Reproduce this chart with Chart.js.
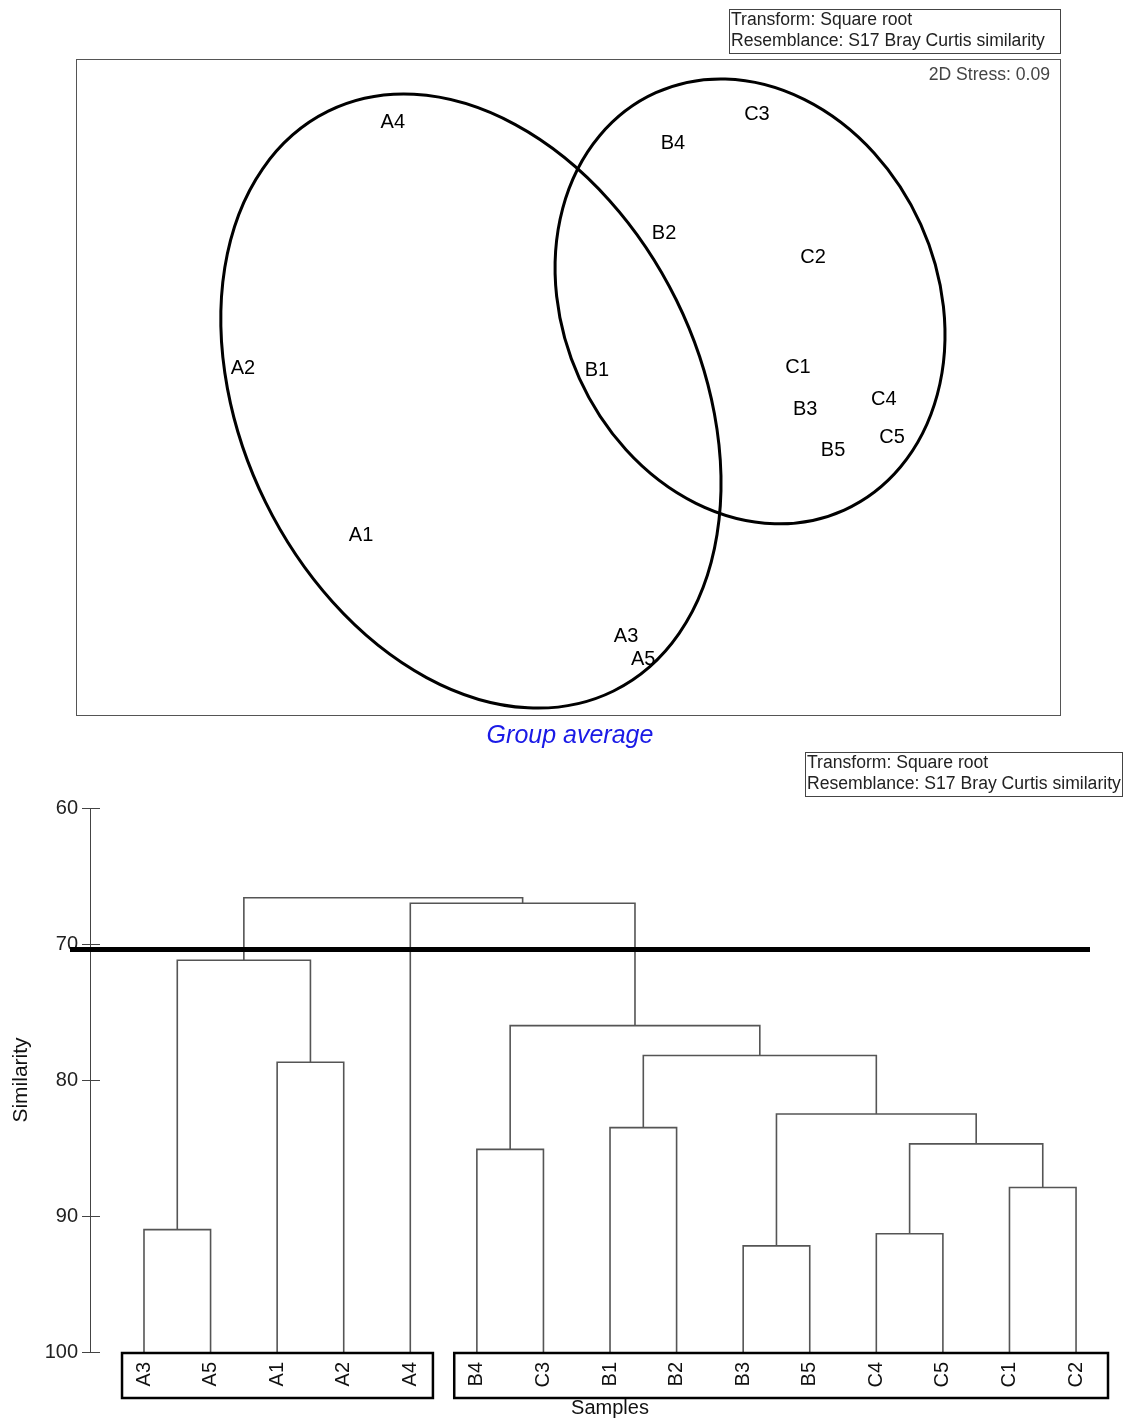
<!DOCTYPE html>
<html>
<head>
<meta charset="utf-8">
<script src="https://cdn.jsdelivr.net/npm/chart.js@4.4.1/dist/chart.umd.min.js"></script>
<style>
  body { margin: 0; background: #fff; }
  .box { position: absolute; left: 0; width: 1123px; }
</style>
</head>
<body>
<div class="box" style="top:0;height:750px"><canvas id="mds"></canvas></div>
<div class="box" style="top:750px;height:668px"><canvas id="dendro"></canvas></div>
<script>
const FONT = "'Liberation Sans', Arial, sans-serif";

// ---- nMDS ordination ----
const sampleLabels = ["A1","A2","A3","A4","A5","B1","B2","B3","B4","B5","C1","C2","C3","C4","C5"];
const mdsX = [-0.631,-0.991, 0.177,-0.534, 0.229, 0.088, 0.293, 0.723, 0.320, 0.808, 0.701, 0.747, 0.576, 0.963, 0.988];
const mdsY = [-0.451, 0.061,-0.759, 0.808,-0.829, 0.052, 0.470,-0.064, 0.744,-0.192, 0.064, 0.399, 0.835,-0.034,-0.152];

// similarity ellipses (centre, semi axes, angle in degrees)
const ellipseCx = [-0.296, 0.555];
const ellipseCy = [-0.043, 0.261];
const ellipseA = [0.985, 0.698];
const ellipseB = [0.698, 0.571];
const ellipseAngle = [-63.8, -65.7];

const stressText = "2D Stress: 0.09";
const legendLines = ["Transform: Square root", "Resemblance: S17 Bray Curtis similarity"];

// ---- dendrogram ----
const leafLabels = ["A3","A5","A1","A2","A4","B4","C3","B1","B2","B3","B5","C4","C5","C1","C2"];
const mergeLeft = [0, 2, 15, 5, 7, 9, 11, 13, 21, 20, 19, 18, 4, 17];
const mergeRight = [1, 3, 16, 6, 8, 10, 12, 14, 22, 23, 24, 25, 26, 27];
const mergeHeight = [91.0, 78.7, 71.2, 85.1, 83.5, 92.2, 91.3, 87.9, 84.7, 82.5, 78.2, 76.0, 67.0, 66.6];
const cutLevel = 70.4;
const simTicks = [60, 70, 80, 90, 100];

function drawLegend(ctx, left, top, right) {
  ctx.fillStyle = "#fff";
  ctx.fillRect(left, top, right - left, 44);
  ctx.strokeStyle = "#444";
  ctx.lineWidth = 1;
  ctx.strokeRect(left + 0.5, top + 0.5, right - left, 44);
  ctx.fillStyle = "#222";
  ctx.font = "17.6px " + FONT;
  ctx.textAlign = "left";
  ctx.textBaseline = "middle";
  ctx.fillText(legendLines[0], left + 2, top + 11);
  ctx.fillText(legendLines[1], left + 2, top + 32);
}

const mdsDecor = {
  id: "mdsDecor",
  afterDatasetsDraw(chart) {
    const { ctx, chartArea: a, scales: { x, y } } = chart;
    const unit = x.getPixelForValue(1) - x.getPixelForValue(0);
    ctx.save();
    ctx.strokeStyle = "#000";
    ctx.lineWidth = 3;
    ellipseCx.forEach((cx, i) => {
      ctx.beginPath();
      ctx.ellipse(x.getPixelForValue(cx), y.getPixelForValue(ellipseCy[i]),
        ellipseA[i] * unit, ellipseB[i] * unit, -ellipseAngle[i] * Math.PI / 180, 0, Math.PI * 2);
      ctx.stroke();
    });
    // sample labels at the points
    ctx.fillStyle = "#000";
    ctx.font = "20px " + FONT;
    ctx.textAlign = "center";
    ctx.textBaseline = "middle";
    chart.getDatasetMeta(0).data.forEach((p, i) => {
      ctx.fillText(sampleLabels[i], p.x, p.y + 1);
    });
    // frame
    ctx.strokeStyle = "#555";
    ctx.lineWidth = 1;
    ctx.strokeRect(a.left + 0.5, a.top + 0.5, a.width, a.height);
    ctx.fillStyle = "#444";
    ctx.font = "17.6px " + FONT;
    ctx.textAlign = "right";
    ctx.fillText(stressText, a.right - 10, a.top + 16);
    drawLegend(ctx, 729, 9, 1060);
    ctx.fillStyle = "#1a1ae6";
    ctx.font = "italic 25px " + FONT;
    ctx.textAlign = "center";
    ctx.fillText("Group average", 570, 736);
    ctx.restore();
  }
};

new Chart(document.getElementById("mds"), {
  type: "scatter",
  data: {
    labels: sampleLabels,
    datasets: [{
      data: mdsX.map((v, i) => ({ x: v, y: mdsY[i] })),
      pointRadius: 0,
      pointHoverRadius: 0
    }]
  },
  options: {
    responsive: true,
    maintainAspectRatio: false,
    animation: false,
    events: [],
    layout: { padding: { left: 76, right: 63, top: 59, bottom: 35 } },
    scales: {
      x: { type: "linear", min: -1.5, max: 1.5, display: false },
      y: { type: "linear", min: -1, max: 1, display: false }
    },
    plugins: { legend: { display: false }, tooltip: { enabled: false } }
  },
  plugins: [mdsDecor]
});

// node positions from the merge table
const nodeX = leafLabels.map((_, i) => i);
const nodeH = leafLabels.map(() => 100);
mergeLeft.forEach((l, k) => {
  const r = mergeRight[k];
  nodeX.push((nodeX[l] + nodeX[r]) / 2);
  nodeH.push(mergeHeight[k]);
});
const linkSets = mergeLeft.map((l, k) => {
  const r = mergeRight[k];
  const h = mergeHeight[k];
  return {
    data: [
      { x: nodeX[l], y: nodeH[l] }, { x: nodeX[l], y: h },
      { x: nodeX[r], y: h }, { x: nodeX[r], y: nodeH[r] }
    ],
    showLine: true,
    borderColor: "#555",
    borderWidth: 1.6,
    pointRadius: 0,
    tension: 0
  };
});

const dendroDecor = {
  id: "dendroDecor",
  afterDatasetsDraw(chart) {
    const { ctx, chartArea: a, scales: { x, y } } = chart;
    ctx.save();
    // inner half of the y ticks
    ctx.strokeStyle = "#444";
    ctx.lineWidth = 1;
    simTicks.forEach(t => {
      const py = Math.round(y.getPixelForValue(t)) + 0.5;
      ctx.beginPath();
      ctx.moveTo(a.left, py);
      ctx.lineTo(a.left + 10, py);
      ctx.stroke();
    });
    // cut line
    const cy = y.getPixelForValue(cutLevel);
    ctx.strokeStyle = "#000";
    ctx.lineWidth = 5;
    ctx.beginPath();
    ctx.moveTo(a.left - 20, cy);
    ctx.lineTo(a.right - 20, cy);
    ctx.stroke();
    // group boxes around leaf labels
    ctx.lineWidth = 2.5;
    [[-0.33, 4.34], [4.66, 14.48]].forEach(([g0, g1]) => {
      const x0 = x.getPixelForValue(g0), x1 = x.getPixelForValue(g1);
      ctx.strokeRect(x0, a.bottom + 1, x1 - x0, 45);
    });
    // x axis title
    ctx.fillStyle = "#111";
    ctx.font = "20px " + FONT;
    ctx.textAlign = "center";
    ctx.textBaseline = "middle";
    ctx.fillText("Samples", x.getPixelForValue(7.0), a.bottom + 56);
    drawLegend(ctx, 805, 2, 1122);
    ctx.restore();
  }
};

new Chart(document.getElementById("dendro"), {
  type: "scatter",
  data: { datasets: linkSets },
  options: {
    responsive: true,
    maintainAspectRatio: false,
    animation: false,
    events: [],
    layout: { padding: { left: 0, right: 13, top: 58, bottom: 0 } },
    scales: {
      x: {
        type: "linear",
        min: -0.811,
        max: 14.51,
        afterBuildTicks: s => { s.ticks = leafLabels.map((_, i) => ({ value: i })); },
        afterFit: s => { s.height = 66; },
        grid: { display: false, drawTicks: false },
        border: { display: false },
        ticks: {
          autoSkip: false,
          minRotation: 90,
          maxRotation: 90,
          padding: 10,
          color: "#111",
          font: { family: FONT, size: 20 },
          callback: v => leafLabels[v]
        }
      },
      y: {
        type: "linear",
        reverse: true,
        min: 60,
        max: 100,
        afterFit: s => { s.width = 90; },
        afterBuildTicks: s => { s.ticks = simTicks.map(v => ({ value: v })); },
        grid: { drawOnChartArea: false, tickLength: 8, color: "#444" },
        border: { color: "#444", width: 1 },
        ticks: { padding: 4, color: "#222", font: { family: FONT, size: 20 } },
        title: { display: true, text: "Similarity", color: "#111", font: { family: FONT, size: 21 }, padding: { top: 9, bottom: 0 } }
      }
    },
    plugins: { legend: { display: false }, tooltip: { enabled: false } }
  },
  plugins: [dendroDecor]
});
</script>
</body>
</html>
